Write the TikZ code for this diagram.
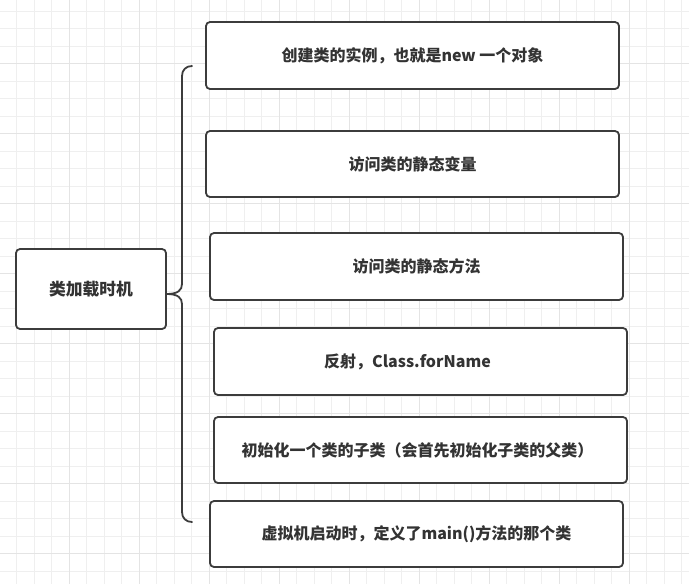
\documentclass[tikz,border=0pt]{standalone}
\usepackage{fontspec}
\setmainfont{Noto Sans CJK SC}
\definecolor{gridminor}{HTML}{EFEFEF}
\definecolor{gridmajor}{HTML}{E4E4E4}
\definecolor{edge}{HTML}{3C3C3C}
\definecolor{ink}{HTML}{333333}
\tikzset{
  box/.style={draw=edge, line width=1.8pt, rounded corners=4pt, fill=white,
    minimum width=413pt, minimum height=66pt, inner sep=0pt,
    font=\fontsize{16}{19}\selectfont\bfseries, text=ink},
  rootbox/.style={box, minimum width=150pt, minimum height=80pt,
    font=\fontsize{16.8}{19}\selectfont\bfseries},
  bracket/.style={draw=edge, line width=1.8pt, line cap=round}
}
\begin{document}
\begin{tikzpicture}[x=1pt,y=-1pt]
\useasboundingbox (0,0) rectangle (689,584);
\fill[white] (0,0) rectangle (689,584);
% grid
\foreach \i in {0,...,40} {
  \draw[gridminor, line width=0.8pt] ({-1+17.5*\i},0) -- ({-1+17.5*\i},584);
}
\foreach \j in {0,...,34} {
  \draw[gridminor, line width=0.8pt] (0,{11+17.5*\j}) -- (689,{11+17.5*\j});
}
\foreach \i in {0,...,10} {
  \draw[gridmajor, line width=0.9pt] ({-1+70*\i},0) -- ({-1+70*\i},584);
}
\foreach \j in {0,...,9} {
  \draw[gridmajor, line width=0.9pt] (0,{-7+70*\j}) -- (689,{-7+70*\j});
}
% nodes
\node[rootbox] (root) at (91,289) {\raisebox{-2pt}{类加载时机}};
\node[box, minimum height=67pt] (b1) at (412.5,55.5) {\raisebox{-1.5pt}{创建类的实例，也就是new 一个对象}};
\node[box] (b2) at (412.5,164) {访问类的静态变量};
\node[box, minimum height=67pt] (b3) at (416.5,266.5) {访问类的静态方法};
\node[box, minimum height=67pt] (b4) at (420.5,361.5) {\hspace*{-26pt}反射，Class.forName};
\node[box] (b5) at (420.5,450) {\hspace*{-6pt}初始化一个类的子类（会首先初始化子类的父类）};
\node[box] (b6) at (416.5,534) {虚拟机启动时，定义了main()方法的那个类};
% bracket
\coordinate (tip) at (167,294);
\coordinate (top) at (192,66);
\coordinate (bot) at (192,522);
\draw[bracket] (top) .. controls (186,66) and (182,70) .. (182,76)
  -- (182,284) .. controls (182,290) and (178,294) .. (tip)
  .. controls (178,294) and (182,298) .. (182,304)
  -- (182,512) .. controls (182,518) and (186,522) .. (bot);
\end{tikzpicture}
\end{document}
